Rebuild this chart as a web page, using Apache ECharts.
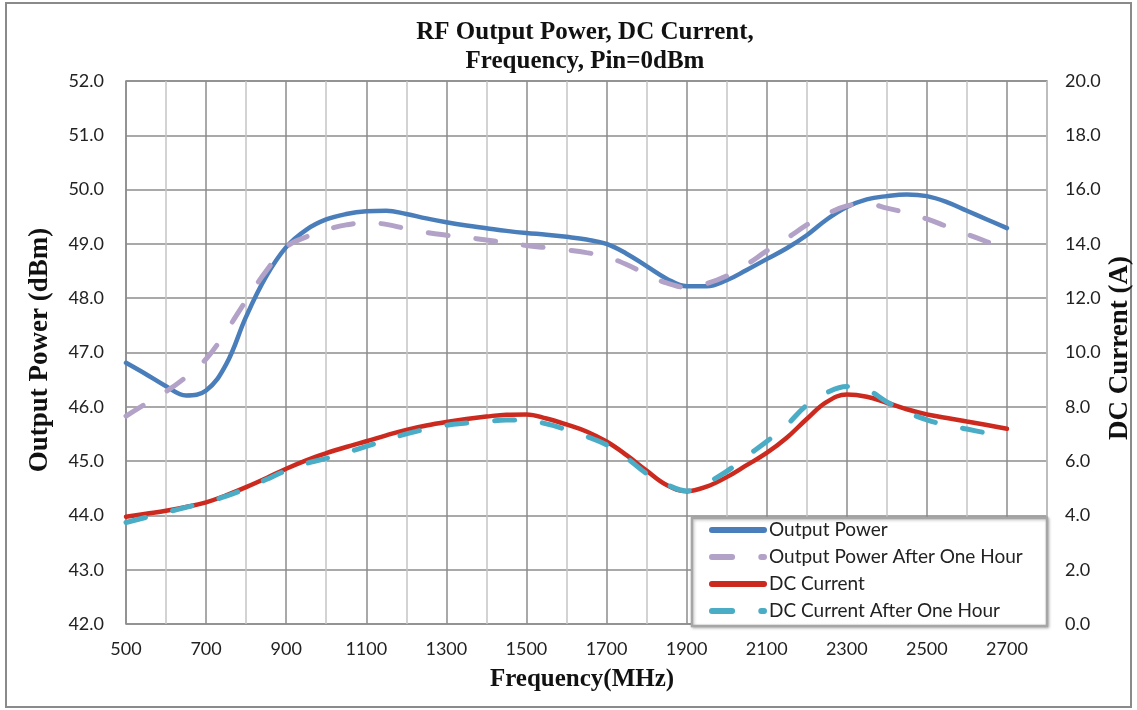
<!DOCTYPE html>
<html>
<head>
<meta charset="utf-8">
<script src="https://cdn.jsdelivr.net/npm/echarts@6/dist/echarts.min.js"></script>
<style>
  html, body { margin: 0; padding: 0; background: #fff; }
  #main { width: 1137px; height: 710px; }
</style>
</head>
<body>
<div id="main"></div>
<script>
// frequency points (MHz), read every 50 MHz off the curves
let freq = [500, 550, 600, 650, 700, 750, 800, 850, 900, 950, 1000, 1050, 1100, 1150, 1200,
  1250, 1300, 1350, 1400, 1450, 1500, 1550, 1600, 1650, 1700, 1750, 1800, 1850, 1900, 1950,
  2000, 2050, 2100, 2150, 2200, 2250, 2300, 2350, 2400, 2450, 2500, 2550, 2600, 2650, 2700];

// output power, dBm
let power = [46.81, 46.6, 46.38, 46.21, 46.3, 46.78, 47.66, 48.4, 48.94, 49.26, 49.45, 49.55, 49.6, 49.61, 49.55,
  49.47, 49.4, 49.34, 49.29, 49.24, 49.2, 49.17, 49.13, 49.08, 49.0, 48.82, 48.59, 48.36, 48.22, 48.22,
  48.33, 48.52, 48.72, 48.92, 49.16, 49.45, 49.68, 49.82, 49.88, 49.91, 49.88, 49.77, 49.61, 49.45, 49.29];
let powerHour = [45.83, 46.06, 46.28, 46.55, 46.88, 47.39, 47.96, 48.5, 48.94, 49.13, 49.26, 49.35, 49.39, 49.36, 49.28,
  49.21, 49.16, 49.12, 49.07, 49.02, 48.97, 48.93, 48.89, 48.84, 48.76, 48.62, 48.44, 48.28, 48.2, 48.27,
  48.41, 48.62, 48.87, 49.1, 49.35, 49.55, 49.7, 49.74, 49.66, 49.57, 49.46, 49.32, 49.18, 49.04, 48.9];

// DC current, A
let current = [3.95, 4.06, 4.17, 4.31, 4.48, 4.74, 5.04, 5.37, 5.72, 6.03, 6.29, 6.52, 6.73, 6.95, 7.15,
  7.31, 7.44, 7.55, 7.64, 7.71, 7.72, 7.57, 7.35, 7.09, 6.72, 6.22, 5.65, 5.12, 4.89, 5.06,
  5.41, 5.85, 6.3, 6.86, 7.55, 8.18, 8.45, 8.37, 8.15, 7.91, 7.72, 7.59, 7.46, 7.33, 7.19];
let currentHour = [3.74, 3.93, 4.11, 4.3, 4.48, 4.71, 4.99, 5.32, 5.65, 5.91, 6.1, 6.31, 6.54, 6.78, 7.0,
  7.18, 7.32, 7.4, 7.46, 7.51, 7.5, 7.37, 7.16, 6.91, 6.6, 6.12, 5.54, 5.14, 4.9, 5.2,
  5.62, 6.18, 6.72, 7.33, 8.06, 8.52, 8.75, 8.63, 8.18, 7.8, 7.52, 7.32, 7.18, 7.03, 6.88];

let seriesNames = ["Output Power", "Output Power After One Hour", "DC Current", "DC Current After One Hour"];

function pairs(ys) {
  return freq.map((f, i) => [f, ys[i]]);
}

let solidIcon = "path://M5,0H95A5,5,0,0,1,95,10H5A5,5,0,0,1,5,0Z";
let dashIcon = "path://M5,0H40A5,5,0,0,1,40,10H5A5,5,0,0,1,5,0ZM90,0H95A5,5,0,0,1,95,10H90A5,5,0,0,1,90,0Z";

let tickFont = { fontFamily: "Lato", fontSize: 18, color: "#222" };
let serifBold = { fontFamily: "Liberation Serif", fontWeight: "bold", fill: "#111" };

let options = {
  animation: false,
  title: {
    text: "RF Output Power, DC Current,\nFrequency, Pin=0dBm",
    left: 580,
    top: 13,
    textAlign: "center",
    textStyle: { fontFamily: "Liberation Serif", fontWeight: "bold", fontSize: 25, lineHeight: 29, color: "#111" },
  },
  grid: { left: 126, right: 90, top: 81, bottom: 86, show: true, borderColor: "#8c8c8c", borderWidth: 1.5 },
  xAxis: {
    type: "value",
    min: 500,
    max: 2800,
    interval: 100,
    axisLine: { show: false },
    axisTick: { show: false },
    axisLabel: {
      ...tickFont,
      margin: 16,
      formatter: (v) => ((v - 500) % 200 === 0 && v < 2800 ? String(v) : ""),
    },
    splitLine: { show: true, lineStyle: { color: ["#8c8c8c", "#c4c4c4"], width: 1.5 } },
  },
  yAxis: [
    {
      type: "value",
      min: 42,
      max: 52,
      interval: 1,
      axisLine: { show: false },
      axisTick: { show: false },
      axisLabel: { ...tickFont, margin: 22, formatter: (v) => v.toFixed(1) },
      splitLine: { lineStyle: { color: "#8c8c8c", width: 1.5 } },
    },
    {
      type: "value",
      min: 0,
      max: 20,
      interval: 2,
      axisLine: { show: false },
      axisTick: { show: false },
      axisLabel: { ...tickFont, margin: 18, formatter: (v) => v.toFixed(1) },
      splitLine: { show: false },
    },
  ],
  legend: {
    orient: "vertical",
    left: 709,
    top: 519,
    z: 10,
    itemWidth: 58,
    itemHeight: 6,
    itemGap: 7,
    padding: [1, 0, 0, 0],
    textStyle: { fontFamily: "Lato", fontSize: 19, lineHeight: 20, color: "#222", padding: [0, 0, 0, -3] },
    itemStyle: { borderWidth: 0 },
    data: [
      { name: seriesNames[0], icon: solidIcon },
      { name: seriesNames[1], icon: dashIcon },
      { name: seriesNames[2], icon: solidIcon },
      { name: seriesNames[3], icon: dashIcon },
    ],
  },
  graphic: [
    { type: "rect", z: -1, shape: { x: 6, y: 3, width: 1125, height: 704 }, style: { fill: "none", stroke: "#8a8a8a", lineWidth: 2 } },
    {
      type: "rect", z: 5,
      shape: { x: 692, y: 518, width: 355, height: 108 },
      style: { fill: "#fff", stroke: "#a6a6a6", lineWidth: 2.5, shadowBlur: 3, shadowColor: "rgba(0,0,0,0.25)", shadowOffsetX: 1, shadowOffsetY: 1 },
    },
    { type: "text", x: 40, y: 350, rotation: Math.PI / 2, style: { text: "Output Power (dBm)", ...serifBold, fontSize: 27, align: "center", verticalAlign: "middle" } },
    { type: "text", x: 1120, y: 348, rotation: Math.PI / 2, style: { text: "DC Current (A)", ...serifBold, fontSize: 27, align: "center", verticalAlign: "middle" } },
    { type: "text", x: 582, y: 680, style: { text: "Frequency(MHz)", ...serifBold, fontSize: 25, align: "center", verticalAlign: "middle" } },
  ],
  series: [
    {
      name: seriesNames[0], type: "line", yAxisIndex: 0, smooth: 0.4, showSymbol: false,
      data: pairs(power), itemStyle: { color: "#4a7ebb" },
      lineStyle: { color: "#4a7ebb", width: 4.5, cap: "round" },
    },
    {
      name: seriesNames[1], type: "line", yAxisIndex: 0, smooth: 0.4, showSymbol: false,
      data: pairs(powerHour), itemStyle: { color: "#b3a2c7" },
      lineStyle: { color: "#b3a2c7", width: 5, type: [20, 28], cap: "round" },
    },
    {
      name: seriesNames[2], type: "line", yAxisIndex: 1, smooth: 0.4, showSymbol: false,
      data: pairs(current), itemStyle: { color: "#cc2a1e" },
      lineStyle: { color: "#cc2a1e", width: 4.5, cap: "round" },
    },
    {
      name: seriesNames[3], type: "line", yAxisIndex: 1, smooth: 0.4, showSymbol: false,
      data: pairs(currentHour), itemStyle: { color: "#4bacc6" },
      lineStyle: { color: "#4bacc6", width: 5, type: [20, 28], cap: "round" },
    },
  ],
};

let myChart = echarts.init(document.getElementById("main"));
myChart.setOption(options);
</script>
</body>
</html>
